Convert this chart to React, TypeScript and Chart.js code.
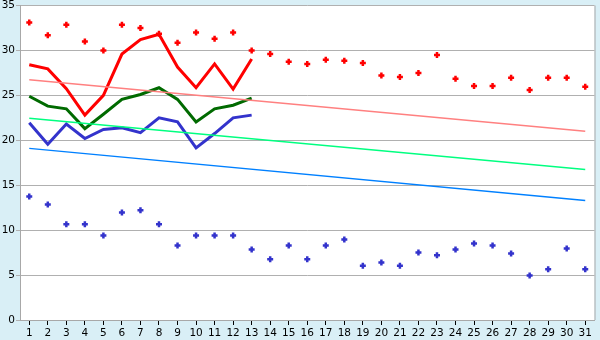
import React, { useEffect, useRef } from "react";
import { Chart, registerables } from "chart.js";

Chart.register(...registerables);

const days = Array.from({ length: 31 }, (_, i) => String(i + 1));

const redDots = [33.1, 31.7, 32.85, 31.0, 30.0, 32.85, 32.5, 31.85, 30.85, 32.0, 31.3, 32.0, 30.0, 29.6, 28.75, 28.5, 28.95, 28.85, 28.6, 27.2, 27.05, 27.5, 29.5, 26.85, 26.05, 26.05, 26.95, 25.6, 26.95, 26.95, 25.95];
const blueDots = [13.75, 12.85, 10.65, 10.65, 9.4, 11.95, 12.2, 10.65, 8.3, 9.4, 9.4, 9.4, 7.85, 6.75, 8.3, 6.75, 8.3, 8.95, 6.05, 6.4, 6.05, 7.5, 7.2, 7.85, 8.5, 8.3, 7.4, 4.95, 5.65, 7.95, 5.65];
const redLine = [28.4, 27.95, 25.75, 22.8, 25.0, 29.6, 31.2, 31.8, 28.15, 25.85, 28.5, 25.7, 29.05];
const greenLine = [24.9, 23.8, 23.5, 21.3, 22.9, 24.55, 25.1, 25.85, 24.55, 22.05, 23.5, 23.9, 24.7];
const blueLine = [21.95, 19.55, 21.8, 20.2, 21.2, 21.4, 20.85, 22.5, 22.05, 19.15, 20.75, 22.5, 22.8];
const redTrendEnds = [26.75, 21.0];
const greenTrendEnds = [22.45, 16.75];
const blueTrendEnds = [19.1, 13.3];
const yTicks = [0, 5, 10, 15, 20, 25, 30, 35];

function ends(pair: number[]) {
  return days.map((_, i) => (i === 0 ? pair[0] : i === days.length - 1 ? pair[1] : null));
}

const framePlugin = {
  id: "frame",
  beforeDraw(chart: any) {
    const { ctx, chartArea } = chart;
    ctx.save();
    ctx.fillStyle = "#d9eff6";
    ctx.fillRect(0, 0, chart.width, chart.height);
    ctx.fillStyle = "#ffffff";
    ctx.fillRect(chartArea.left, chartArea.top, chartArea.right - chartArea.left, chartArea.bottom - chartArea.top);
    ctx.restore();
  },
  afterDraw(chart: any) {
    const { ctx, chartArea } = chart;
    ctx.save();
    ctx.strokeStyle = "#a8a8a8";
    ctx.lineWidth = 1;
    ctx.beginPath();
    ctx.moveTo(chartArea.right + 0.5, chartArea.top);
    ctx.lineTo(chartArea.right + 0.5, chartArea.bottom);
    ctx.stroke();
    ctx.restore();
  },
};

export default function App() {
  const ref = useRef<HTMLCanvasElement>(null);
  useEffect(() => {
    document.body.style.margin = "0";
    const lineDs = (label: string, data: any[], color: string, width: number) => ({
      label,
      data,
      borderColor: color,
      backgroundColor: color,
      borderWidth: width,
      pointRadius: 0,
      tension: 0,
      spanGaps: true,
      fill: false,
    });
    const dotDs = (label: string, data: number[], color: string) => ({
      label,
      data,
      showLine: false,
      borderColor: color,
      backgroundColor: color,
      pointStyle: "cross",
      pointRadius: 3,
      pointBorderWidth: 2.5,
      pointHoverRadius: 3,
    });
    const font = { family: "DejaVu Sans", size: 10.5 };
    const chart = new Chart(ref.current!, {
      type: "line",
      data: {
        labels: days,
        datasets: [
          lineDs("redTrend", ends(redTrendEnds), "#ff8080", 1.5),
          lineDs("greenTrend", ends(greenTrendEnds), "#00ff80", 1.5),
          lineDs("blueTrend", ends(blueTrendEnds), "#0080ff", 1.5),
          lineDs("red", redLine, "#ff0000", 3),
          lineDs("green", greenLine, "#006a00", 3),
          lineDs("blue", blueLine, "#3333cc", 3),
          dotDs("redDots", redDots, "#ff0000"),
          dotDs("blueDots", blueDots, "#3333cc"),
        ] as any,
      },
      options: {
        animation: false,
        responsive: false,
        maintainAspectRatio: false,
        layout: { padding: { top: 5, right: 5, left: 0, bottom: 0 } },
        plugins: { legend: { display: false }, tooltip: { enabled: false } },
        scales: {
          x: {
            type: "category",
            offset: true,
            grid: { drawOnChartArea: false, drawTicks: true, tickLength: 5, color: "#000000", offset: false },
            border: { color: "#a8a8a8" },
            ticks: { color: "#000000", font, padding: 2, maxRotation: 0, autoSkip: false },
            afterFit: (s: any) => { s.height = 20; s.paddingLeft = 0; s.paddingRight = 0; },
          },
          y: {
            min: 0,
            max: 35,
            afterBuildTicks: (s: any) => { s.ticks = yTicks.map((v) => ({ value: v })); },
            grid: { color: "#b0b0b0", tickLength: 4 },
            border: { color: "#a8a8a8" },
            ticks: { color: "#000000", font, padding: 1 },
            afterFit: (s: any) => { s.width = 20; s.paddingTop = 0; s.paddingBottom = 0; },
          },
        },
      },
      plugins: [framePlugin],
    });
    return () => chart.destroy();
  }, []);
  return <canvas ref={ref} width={600} height={340} style={{ display: "block" }} />;
}
